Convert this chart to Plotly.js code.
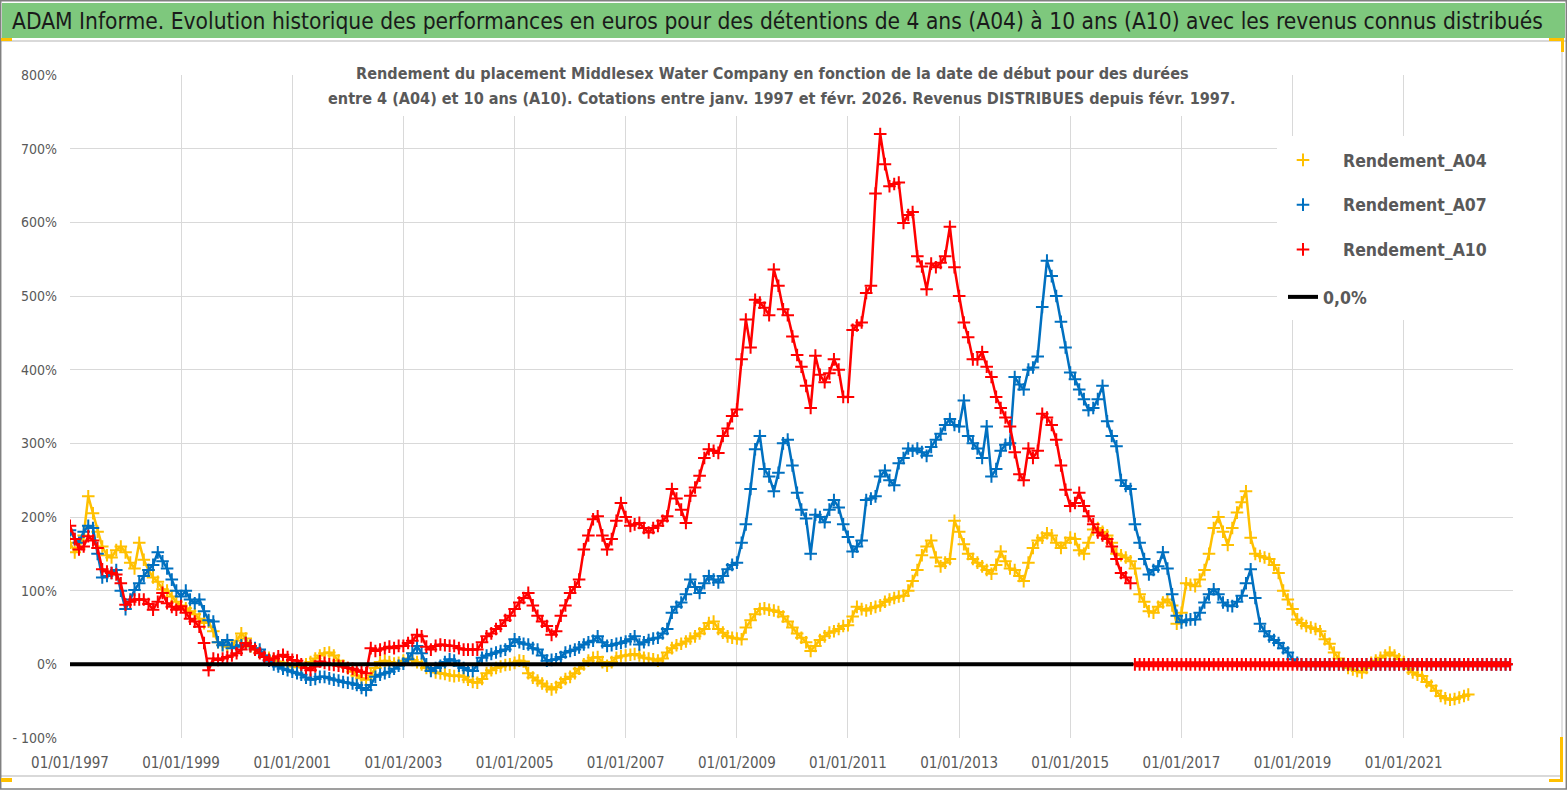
<!DOCTYPE html>
<html><head><meta charset="utf-8">
<script src="https://cdn.plot.ly/plotly-3.0.1.min.js"></script>
<style>html,body{margin:0;padding:0;background:#fff}#chart{width:1567px;height:790px}</style>
</head><body><div id="chart"></div>
<script>
// Monthly readings (first of each month), Jan 1997 .. Dec 2022, values in %
const START_YEAR = 1997;
const END_YEAR = 2022;

const A04 = [
/*1997*/ 165,152,158,175,228,205,180,160,148,145,155,160,
/*1998*/ 152,138,130,165,142,128,118,112,102,100,92,85,
/*1999*/ 80,76,72,68,62,56,58,45,30,26,24,26,
/*2000*/ 32,42,35,24,20,16,12,9,6,4,2,0,
/*2001*/ -3,-4,-3,0,3,8,12,15,16,12,5,-2,
/*2002*/ -5,-10,-15,-19,-21,-15,-5,3,5,3,1,2,
/*2003*/ 5,8,6,3,0,-5,-8,-11,-12,-13,-15,-16,
/*2004*/ -15,-17,-21,-24,-25,-20,-12,-8,-5,-3,-1,0,
/*2005*/ 2,5,4,-12,-18,-22,-26,-30,-34,-31,-25,-20,
/*2006*/ -17,-12,-6,0,5,9,10,3,-2,3,9,11,
/*2007*/ 12,13,14,12,9,8,7,5,8,16,22,26,
/*2008*/ 28,31,35,38,42,48,56,58,48,43,38,36,
/*2009*/ 35,34,50,60,68,75,76,74,73,71,65,58,
/*2010*/ 50,42,36,30,18,25,33,38,43,45,48,52,
/*2011*/ 53,65,78,75,73,76,78,80,85,88,90,92,
/*2012*/ 93,100,113,128,148,160,168,145,133,138,143,195,
/*2013*/ 180,163,150,143,138,133,128,123,135,153,140,130,
/*2014*/ 128,120,113,138,158,168,172,178,175,165,158,165,
/*2015*/ 172,170,155,150,165,183,185,180,175,165,150,148,
/*2016*/ 145,140,130,95,85,72,70,78,84,88,80,55,
/*2017*/ 70,110,108,106,115,128,150,185,200,180,162,185,
/*2018*/ 206,220,235,172,150,147,145,143,135,124,100,88,
/*2019*/ 75,61,56,52,50,48,45,34,28,16,8,0,
/*2020*/ -5,-7,-9,-11,-5,2,5,9,12,16,12,7,
/*2021*/ 3,-6,-11,-14,-16,-24,-29,-36,-43,-46,-48,-47,
/*2022*/ -45,-43,-41,null,null,null,null,null,null,null,null,null
];

const A07 = [
/*1997*/ 182,170,165,180,188,185,150,118,120,124,128,100,
/*1998*/ 75,88,101,110,120,128,135,152,140,130,115,100,
/*1999*/ 92,100,88,83,88,72,60,58,30,26,33,22,
/*2000*/ 24,26,29,25,22,20,12,5,0,-3,-6,-8,
/*2001*/ -10,-12,-14,-18,-21,-20,-17,-17,-19,-21,-22,-24,
/*2002*/ -25,-26,-28,-32,-35,-28,-17,-14,-12,-10,-6,-2,
/*2003*/ 1,7,15,25,15,0,-9,-5,-2,3,7,5,
/*2004*/ -2,-5,-8,-9,0,9,12,14,16,18,20,25,
/*2005*/ 34,30,28,27,22,20,12,5,6,7,10,16,
/*2006*/ 18,20,23,27,30,32,38,30,25,26,28,29,
/*2007*/ 31,34,38,27,30,33,35,36,42,48,70,78,
/*2008*/ 84,95,115,105,97,110,120,115,111,120,129,135,
/*2009*/ 138,165,190,238,292,310,265,255,235,260,300,305,
/*2010*/ 270,233,210,198,150,203,200,193,210,223,213,190,
/*2011*/ 173,153,160,168,223,225,228,255,263,250,243,273,
/*2012*/ 280,293,290,293,288,283,295,305,313,325,333,325,
/*2013*/ 323,358,310,300,293,280,323,255,265,290,298,300,
/*2014*/ 390,380,373,400,403,418,485,548,527,500,465,430,
/*2015*/ 396,387,373,360,345,348,360,378,330,310,296,250,
/*2016*/ 242,238,190,165,143,122,128,133,152,130,95,66,
/*2017*/ 57,60,61,61,70,84,95,102,95,84,80,79,
/*2018*/ 85,93,110,129,90,55,45,38,33,29,22,16,
/*2019*/ 7,2,0,0,0,0,0,0,0,0,0,0,
/*2020*/ 0,0,0,0,0,0,0,0,0,0,0,0,
/*2021*/ 0,0,0,0,0,0,0,0,0,0,0,0,
/*2022*/ 0,0,0,0,0,0,0,0,0,0,0,0
];

const A10 = [
/*1997*/ 188,170,156,160,174,168,158,129,126,124,122,110,
/*1998*/ 81,85,88,88,88,82,74,85,97,83,78,74,
/*1999*/ 79,70,62,58,51,29,-8,8,6,8,10,12,
/*2000*/ 15,20,29,25,20,15,10,6,8,11,13,10,
/*2001*/ 6,5,0,-5,-8,-3,4,2,0,-1,-2,-3,
/*2002*/ -5,-6,-8,-10,-12,22,18,20,22,24,22,25,
/*2003*/ 25,29,32,40,38,24,20,25,27,26,25,25,
/*2004*/ 22,20,20,20,20,30,38,42,48,52,60,66,
/*2005*/ 75,84,90,97,80,66,58,52,40,45,66,80,
/*2006*/ 97,105,115,156,175,197,201,175,156,170,195,219,
/*2007*/ 200,188,190,192,185,179,185,188,195,201,238,225,
/*2008*/ 210,192,229,240,256,280,292,290,287,310,320,337,
/*2009*/ 346,414,468,430,495,491,484,474,536,514,482,474,
/*2010*/ 445,420,404,378,348,419,393,383,395,414,400,363,
/*2011*/ 363,454,460,464,504,514,639,720,679,649,652,654,
/*2012*/ 599,610,614,554,540,509,544,539,545,554,594,539,
/*2013*/ 500,464,444,414,414,424,404,390,363,348,335,323,
/*2014*/ 288,258,250,293,280,290,340,335,325,305,270,237,
/*2015*/ 215,219,233,215,201,190,179,175,170,160,143,124,
/*2016*/ 118,110,0,0,0,0,0,0,0,0,0,0,
/*2017*/ 0,0,0,0,0,0,0,0,0,0,0,0,
/*2018*/ 0,0,0,0,0,0,0,0,0,0,0,0,
/*2019*/ 0,0,0,0,0,0,0,0,0,0,0,0,
/*2020*/ 0,0,0,0,0,0,0,0,0,0,0,0,
/*2021*/ 0,0,0,0,0,0,0,0,0,0,0,0,
/*2022*/ 0,0,0,0,0,0,0,0,0,0,0,0
];

const ZERO_X = ['1997-01-01', '2016-02-20'];
const ZERO_Y = [0, 0];

const X_TICK_VALS = ['1997-01-01','1999-01-01','2001-01-01','2003-01-01','2005-01-01','2007-01-01','2009-01-01','2011-01-01','2013-01-01','2015-01-01','2017-01-01','2019-01-01','2021-01-01'];
const X_TICK_TEXT = ['01/01/1997','01/01/1999','01/01/2001','01/01/2003','01/01/2005','01/01/2007','01/01/2009','01/01/2011','01/01/2013','01/01/2015','01/01/2017','01/01/2019','01/01/2021'];
const Y_TICK_VALS = [-100,0,100,200,300,400,500,600,700,800];
const Y_TICK_TEXT = ['- 100%','0%','100%','200%','300%','400%','500%','600%','700%','800%'];

const MAIN_TITLE = 'ADAM Informe. Evolution historique des performances en euros pour des détentions de 4 ans (A04) à 10 ans (A10) avec les revenus connus distribués';
const SUB_TITLE_1 = 'Rendement du placement Middlesex Water Company en fonction de la date de début pour des durées';
const SUB_TITLE_2 = 'entre 4 (A04) et 10 ans (A10). Cotations entre janv. 1997 et févr. 2026. Revenus DISTRIBUES depuis févr. 1997.';

// month dates
const months = [];
for (let y = START_YEAR; y <= END_YEAR; y++) {
  for (let m = 1; m <= 12; m++) months.push(y + '-' + String(m).padStart(2,'0') + '-01');
}

const FONT = '"DejaVu Sans Condensed", "DejaVu Sans", sans-serif';
const GREY = '#595959';

// index where the trailing run of zeros (no more data) begins
function activeEnd(values) {
  let k = values.length;
  while (k > 0 && (values[k-1] === 0 || values[k-1] === null)) k--;
  return k;
}

function seriesTraces(name, values, color, group) {
  const k = activeEnd(values);
  const out = [];
  out.push({x: months.slice(0, k), y: values.slice(0, k), type: 'scatter', mode: 'lines',
            line: {color: color, width: 2.5}, showlegend: false, legendgroup: group, hoverinfo: 'skip'});
  const zx = [], zy = [];
  for (let i = k; i < values.length; i++) if (values[i] !== null) { zx.push(months[i]); zy.push(values[i]); }
  if (zx.length > 1) out.push({x: zx, y: zy, type: 'scatter', mode: 'lines',
            line: {color: color, width: 6}, showlegend: false, legendgroup: group, hoverinfo: 'skip'});
  out.push({x: months, y: values, type: 'scatter', mode: 'markers', name: '<b>' + name + '</b>',
            legendgroup: group,
            marker: {symbol: 'cross-thin', size: 9, color: color, line: {width: 2, color: color}},
            hoverinfo: 'skip'});
  return out;
}

const traces = [].concat(
  seriesTraces('Rendement_A04', A04, '#FFC000', 'g1'),
  seriesTraces('Rendement_A07', A07, '#0070C0', 'g2'),
  seriesTraces('Rendement_A10', A10, '#FF0000', 'g3'),
  [{x: ZERO_X, y: ZERO_Y, type: 'scatter', mode: 'lines', name: '<b>0,0%</b>', legend: 'legend2',
    line: {color: '#000000', width: 4}, hoverinfo: 'skip'}]
);

// pixel -> paper helpers (plot area: x 70..1513, y 75..738)
const PX = p => (p - 70) / 1443;
const PY = p => (738 - p) / 663;

const shapes = [
  {type:'rect', xref:'paper', yref:'paper', x0:PX(2), x1:PX(1565), y0:PY(38), y1:PY(3), fillcolor:'#7EC87D', line:{width:0}, layer:'above'},
  {type:'line', xref:'paper', yref:'paper', x0:PX(0), x1:PX(1567), y0:PY(41), y1:PY(41), line:{color:'#D9D9D9', width:2}},
  {type:'line', xref:'paper', yref:'paper', x0:PX(0), x1:PX(1562), y0:PY(776), y1:PY(776), line:{color:'#D9D9D9', width:2}},
  {type:'line', xref:'paper', yref:'paper', x0:PX(1562), x1:PX(1562), y0:PY(41), y1:PY(776), line:{color:'#D9D9D9', width:1.5}},
  {type:'rect', xref:'paper', yref:'paper', x0:PX(322), x1:PX(1243), y0:PY(116), y1:PY(58), fillcolor:'#FFFFFF', line:{width:0}, layer:'above'},
  {type:'rect', xref:'paper', yref:'paper', x0:PX(1277), x1:PX(1516), y0:PY(320), y1:PY(136), fillcolor:'#FFFFFF', line:{width:0}, layer:'above'},
  {type:'rect', xref:'paper', yref:'paper', x0:PX(0.7), x1:PX(1566.3), y0:PY(789), y1:PY(0.7), line:{color:'#808080', width:1.5}, layer:'above'},
  {type:'line', xref:'paper', yref:'paper', x0:PX(1), x1:PX(12), y0:PY(39.5), y1:PY(39.5), line:{color:'#FFC000', width:3}},
  {type:'line', xref:'paper', yref:'paper', x0:PX(1549), x1:PX(1564), y0:PY(39.5), y1:PY(39.5), line:{color:'#FFC000', width:3}},
  {type:'line', xref:'paper', yref:'paper', x0:PX(1562.5), x1:PX(1562.5), y0:PY(38), y1:PY(52), line:{color:'#FFC000', width:3}},
  {type:'line', xref:'paper', yref:'paper', x0:PX(1), x1:PX(12), y0:PY(780), y1:PY(780), line:{color:'#FFC000', width:4}},
  {type:'line', xref:'paper', yref:'paper', x0:PX(1561.5), x1:PX(1561.5), y0:PY(737), y1:PY(782), line:{color:'#FFC000', width:3}},
  {type:'line', xref:'paper', yref:'paper', x0:PX(1549), x1:PX(1563), y0:PY(780.5), y1:PY(780.5), line:{color:'#FFC000', width:3}}
];

const annotations = [
  {xref:'paper', yref:'paper', x:PX(10), y:PY(21), xanchor:'left', yanchor:'middle', showarrow:false,
   text: MAIN_TITLE, font:{family:FONT, size:22.6, color:'#1A1A1A'}},
  {xref:'paper', yref:'paper', x:PX(772), y:PY(73), xanchor:'center', yanchor:'middle', showarrow:false,
   text: '<b>' + SUB_TITLE_1 + '</b>', font:{family:FONT, size:16.1, color:GREY}},
  {xref:'paper', yref:'paper', x:PX(781), y:PY(98), xanchor:'center', yanchor:'middle', showarrow:false,
   text: '<b>' + SUB_TITLE_2 + '</b>', font:{family:FONT, size:16.1, color:GREY}}
];

const layout = {
  width: 1567, height: 790,
  margin: {l:70, r:54, t:75, b:52, pad:0},
  paper_bgcolor: '#FFFFFF', plot_bgcolor: '#FFFFFF',
  showlegend: true,
  legend: {x:PX(1263), y:PY(142), xanchor:'left', yanchor:'top', bgcolor:'rgba(0,0,0,0)',
           font:{family:FONT, size:17.5, color:GREY}, tracegroupgap:19, itemsizing:'trace', itemwidth:70},
  legend2: {x:PX(1283), y:PY(279), xanchor:'left', yanchor:'top', bgcolor:'rgba(0,0,0,0)',
           font:{family:FONT, size:17.5, color:GREY}, itemwidth:30},
  xaxis: {type:'date', range:['1997-01-01','2022-12-20'], tickmode:'array', tickvals:X_TICK_VALS, ticktext:X_TICK_TEXT,
          showgrid:true, gridcolor:'#D9D9D9', gridwidth:1, zeroline:false, showline:false, ticks:'',
          tickfont:{family:FONT, size:15, color:GREY}, ticklabelstandoff:14},
  yaxis: {range:[-100,800], tickmode:'array', tickvals:Y_TICK_VALS, ticktext:Y_TICK_TEXT,
          showgrid:true, gridcolor:'#D9D9D9', gridwidth:1, zeroline:false, showline:false, ticks:'',
          tickfont:{family:FONT, size:14, color:GREY}, ticklabelstandoff:12},
  shapes: shapes,
  annotations: annotations,
  hovermode: false
};

Plotly.newPlot('chart', traces, layout, {staticPlot:true, displayModeBar:false});
</script>
</body></html>
